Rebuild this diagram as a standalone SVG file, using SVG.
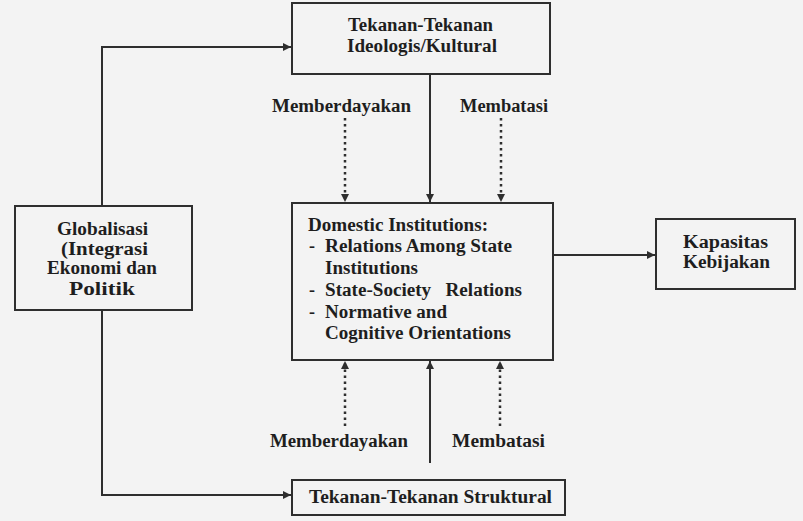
<svg xmlns="http://www.w3.org/2000/svg" width="803" height="521" viewBox="0 0 803 521">
<style>
.box{fill:none;stroke:#2e2e2e;stroke-width:2}
.t{font-family:"Liberation Serif","Times New Roman",serif;font-weight:bold;font-size:18px;fill:#1e1e1e}
.ln{fill:none;stroke:#2e2e2e;stroke-width:2}
.dot{fill:none;stroke:#2e2e2e;stroke-width:2.5;stroke-dasharray:2.5 3.5}
</style>
<defs>
<marker id="ah" viewBox="0 0 10 10" refX="10" refY="5" markerWidth="9" markerHeight="8" markerUnits="userSpaceOnUse" orient="auto">
<path d="M0,0 L10,5 L0,10 z" fill="#2e2e2e"/>
</marker>
</defs>
<rect width="803" height="521" fill="#f3f3f3"/>
<g id="connectors">
<polyline class="ln" points="102,206 102,47 291,47" marker-end="url(#ah)"/>
<polyline class="ln" points="102,310 102,495 291,495" marker-end="url(#ah)"/>
<line class="ln" x1="553" y1="255" x2="655" y2="255" marker-end="url(#ah)"/>
<line class="ln" x1="430" y1="74" x2="430" y2="202" marker-end="url(#ah)"/>
<line class="dot" x1="345" y1="118" x2="345" y2="202" marker-end="url(#ah)"/>
<line class="dot" x1="501" y1="118" x2="501" y2="202" marker-end="url(#ah)"/>
<line class="ln" x1="430" y1="463" x2="430" y2="361" marker-end="url(#ah)"/>
<line class="dot" x1="345" y1="426" x2="345" y2="361" marker-end="url(#ah)"/>
<line class="dot" x1="500" y1="426" x2="500" y2="361" marker-end="url(#ah)"/>
<text class="t" x="272" y="112" textLength="139" lengthAdjust="spacingAndGlyphs">Memberdayakan</text>
<text class="t" x="460" y="112" textLength="88" lengthAdjust="spacingAndGlyphs">Membatasi</text>
<text class="t" x="270" y="447" textLength="138" lengthAdjust="spacingAndGlyphs">Memberdayakan</text>
<text class="t" x="452" y="447" textLength="93" lengthAdjust="spacingAndGlyphs">Membatasi</text>
</g>
<g id="ideologis">
<rect class="box" x="292" y="3" width="258" height="71"/>
<text class="t" x="348" y="31" textLength="145" lengthAdjust="spacingAndGlyphs">Tekanan-Tekanan</text>
<text class="t" x="347" y="52" textLength="150" lengthAdjust="spacingAndGlyphs">Ideologis/Kultural</text>
</g>
<g id="globalisasi">
<rect class="box" x="15" y="206" width="177" height="104"/>
<text class="t" x="57" y="235" textLength="91" lengthAdjust="spacingAndGlyphs">Globalisasi</text>
<text class="t" x="61" y="255" textLength="87" lengthAdjust="spacingAndGlyphs">(Integrasi</text>
<text class="t" x="47" y="274" textLength="110" lengthAdjust="spacingAndGlyphs">Ekonomi dan</text>
<text class="t" x="69" y="295" textLength="66" lengthAdjust="spacingAndGlyphs">Politik</text>
</g>
<g id="domestic">
<rect class="box" x="292" y="203" width="261" height="157"/>
<text class="t" x="308" y="231" textLength="180" lengthAdjust="spacingAndGlyphs">Domestic Institutions:</text>
<text class="t" x="309" y="252">-</text>
<text class="t" x="325" y="252" textLength="187" lengthAdjust="spacingAndGlyphs">Relations Among State</text>
<text class="t" x="325" y="274" textLength="93" lengthAdjust="spacingAndGlyphs">Institutions</text>
<text class="t" x="309" y="296">-</text>
<text class="t" x="325" y="296" textLength="197" lengthAdjust="spacingAndGlyphs" style="white-space:pre">State-Society   Relations</text>
<text class="t" x="309" y="318">-</text>
<text class="t" x="325" y="318" textLength="122" lengthAdjust="spacingAndGlyphs">Normative and</text>
<text class="t" x="325" y="339" textLength="186" lengthAdjust="spacingAndGlyphs">Cognitive Orientations</text>
</g>
<g id="kapasitas">
<rect class="box" x="656" y="219" width="139" height="70"/>
<text class="t" x="683" y="248" textLength="85" lengthAdjust="spacingAndGlyphs">Kapasitas</text>
<text class="t" x="683" y="268" textLength="87" lengthAdjust="spacingAndGlyphs">Kebijakan</text>
</g>
<g id="struktural">
<rect class="box" x="292" y="480" width="273" height="35"/>
<text class="t" x="309" y="503" textLength="243" lengthAdjust="spacingAndGlyphs">Tekanan-Tekanan Struktural</text>
</g>
</svg>
